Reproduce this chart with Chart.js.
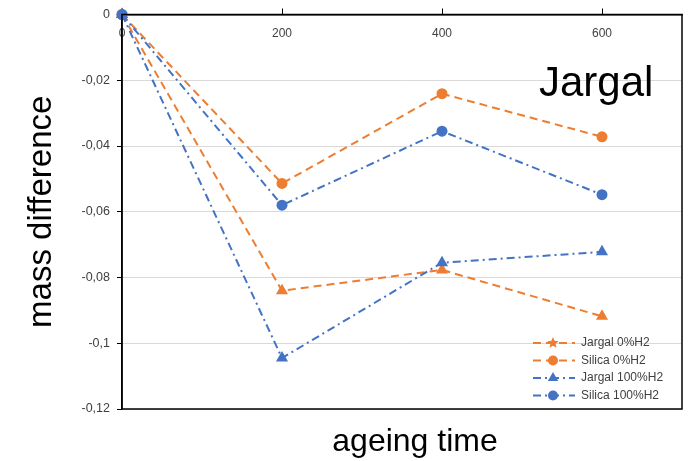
<!DOCTYPE html>
<html>
<head>
<meta charset="utf-8">
<script src="https://cdn.jsdelivr.net/npm/chart.js@4/dist/chart.umd.min.js"></script>
<style>
  html, body { margin: 0; padding: 0; background: #fff; }
  #chart { display: block; }
</style>
</head>
<body>
<canvas id="chart" width="690" height="461"></canvas>
<script>
// data //
const ageingTime = [0, 200, 400, 600];
const jargal0 = [0, -0.084, -0.0777, -0.0918];
const silica0 = [0, -0.0514, -0.0241, -0.0372];
const jargal100 = [0, -0.1045, -0.0755, -0.0722];
const silica100 = [0, -0.058, -0.0355, -0.0548];
const seriesNames = ['Jargal 0%H2', 'Silica 0%H2', 'Jargal 100%H2', 'Silica 100%H2'];
const sampleName = 'Jargal';

const orange = '#ED7D31';
const blue = '#4472C4';
const dashed = [8, 5];
const dashDot = [8, 4, 2, 4];

function toPoints(ys) {
  return ageingTime.map((x, i) => ({ x: x, y: ys[i] }));
}

function makeSet(label, ys, color, dash, marker, order) {
  return {
    label: label,
    data: toPoints(ys),
    borderColor: color,
    backgroundColor: color,
    borderWidth: 2,
    borderDash: dash,
    pointStyle: marker,
    pointRadius: marker === 'triangle' ? 7 : 5.5,
    pointBorderWidth: 0,
    order: order,
    clip: false,
    tension: 0
  };
}

// star marker for the legend (chart.js star is only a cross)
function drawStar(ctx, x, y, r) {
  ctx.beginPath();
  for (let i = 0; i < 10; i++) {
    const rad = i % 2 === 0 ? r : r * 0.45;
    const ang = -Math.PI / 2 + i * Math.PI / 5;
    const px = x + rad * Math.cos(ang), py = y + rad * Math.sin(ang);
    if (i === 0) ctx.moveTo(px, py); else ctx.lineTo(px, py);
  }
  ctx.closePath();
  ctx.fill();
}

function drawMarker(ctx, kind, x, y) {
  if (kind === 'star') { drawStar(ctx, x, y, 6); return; }
  ctx.beginPath();
  if (kind === 'circle') {
    ctx.arc(x, y, 5, 0, Math.PI * 2);
  } else {
    ctx.moveTo(x, y - 6);
    ctx.lineTo(x + 5.2, y + 3);
    ctx.lineTo(x - 5.2, y + 3);
    ctx.closePath();
  }
  ctx.fill();
}

const legendMarkers = ['star', 'circle', 'triangle', 'circle'];

// frame, sample name, x title, legend //
const overlay = {
  id: 'overlay',
  afterDraw(chart) {
    const ctx = chart.ctx;
    const a = chart.chartArea;
    ctx.save();
    ctx.strokeStyle = '#000';
    ctx.lineWidth = 1.5;
    ctx.setLineDash([]);
    ctx.strokeRect(a.left, a.top, a.right - a.left, a.bottom - a.top);

    ctx.fillStyle = '#000';
    ctx.font = '42px "Liberation Sans", Arial, sans-serif';
    ctx.textAlign = 'left';
    ctx.textBaseline = 'alphabetic';
    ctx.fillText(sampleName, a.right - 143, a.top + 81);

    ctx.font = '32px "Liberation Sans", Arial, sans-serif';
    ctx.textAlign = 'center';
    ctx.textBaseline = 'middle';
    ctx.fillText('ageing time', a.left + 293, a.bottom + 33);

    // legend
    ctx.font = '12px "Liberation Sans", Arial, sans-serif';
    ctx.textAlign = 'left';
    chart.data.datasets.forEach((ds, i) => {
      const y = a.bottom - 66 + i * 17.5;
      const x0 = a.right - 149;
      ctx.strokeStyle = ds.borderColor;
      ctx.fillStyle = ds.borderColor;
      ctx.lineWidth = 2;
      ctx.setLineDash(ds.borderDash);
      ctx.beginPath();
      ctx.moveTo(x0, y);
      ctx.lineTo(x0 + 42, y);
      ctx.stroke();
      ctx.setLineDash([]);
      drawMarker(ctx, legendMarkers[i], x0 + 20, y);
      ctx.fillStyle = '#404040';
      ctx.fillText(ds.label, x0 + 48, y);
    });
    ctx.restore();
  }
};

const ctx = document.getElementById('chart');
new Chart(ctx, {
  type: 'line',
  data: {
    datasets: [
      makeSet(seriesNames[0], jargal0, orange, dashed, 'triangle', 3),
      makeSet(seriesNames[1], silica0, orange, dashed, 'circle', 2),
      makeSet(seriesNames[2], jargal100, blue, dashDot, 'triangle', 1),
      makeSet(seriesNames[3], silica100, blue, dashDot, 'circle', 0)
    ]
  },
  options: {
    responsive: false,
    animation: false,
    devicePixelRatio: 1,
    layout: { padding: { left: 0, top: 0, right: 8, bottom: 52 } },
    plugins: {
      legend: { display: false },
      tooltip: { enabled: false }
    },
    scales: {
      x: {
        type: 'linear',
        position: 'top',
        min: 0,
        max: 700,
        afterBuildTicks: (scale) => {
          scale.ticks = ageingTime.map(v => ({ value: v }));
        },
        afterFit: (scale) => { scale.height = 12; },
        grid: { drawOnChartArea: false, drawTicks: true, tickLength: 6, color: '#000' },
        border: { color: '#000', width: 1.5 },
        ticks: {
          mirror: true,
          padding: 12,
          color: '#404040',
          font: { family: '"Liberation Sans", Arial, sans-serif', size: 12 }
        }
      },
      y: {
        min: -0.12,
        max: 0,
        afterFit: (scale) => { scale.width = 122; },
        ticks: {
          stepSize: 0.02,
          padding: 7,
          color: '#404040',
          font: { family: '"Liberation Sans", Arial, sans-serif', size: 12.5 },
          callback: (v) => String(Number(v.toFixed(2))).replace('.', ',')
        },
        grid: { color: '#d9d9d9', tickColor: '#000', tickLength: 5, lineWidth: 1 },
        border: { color: '#000', width: 1.5 },
        title: {
          display: true,
          text: 'mass difference',
          color: '#000',
          font: { family: '"Liberation Sans", Arial, sans-serif', size: 33 },
          padding: { top: 22, bottom: 0 }
        }
      }
    }
  },
  plugins: [overlay]
});
</script>
</body>
</html>
